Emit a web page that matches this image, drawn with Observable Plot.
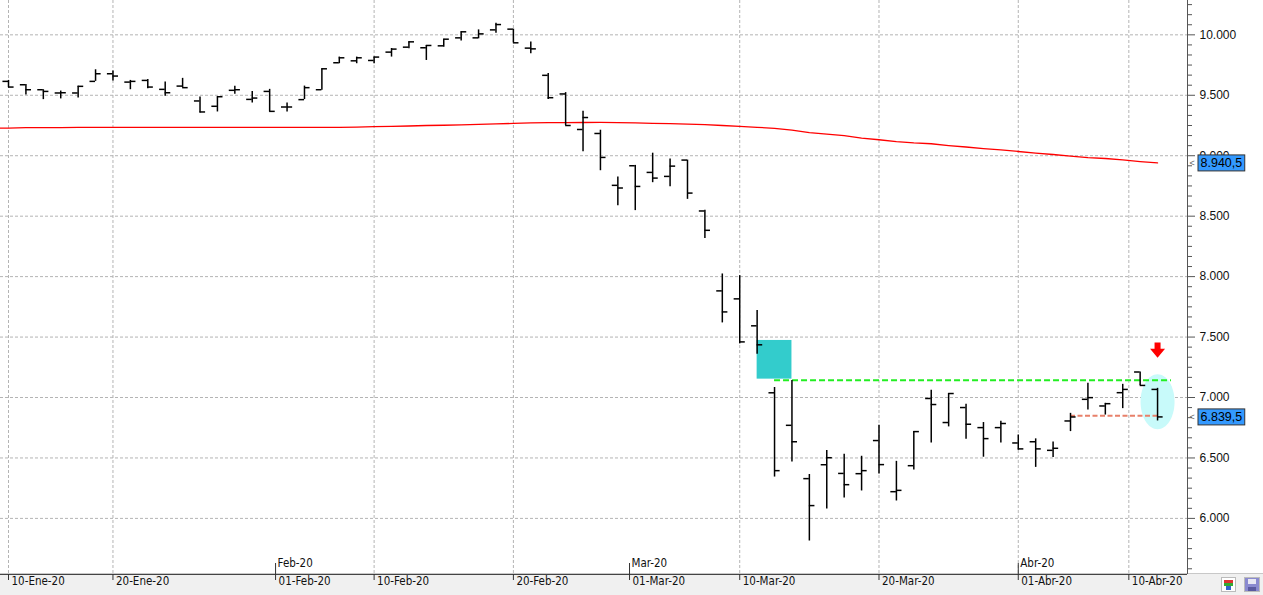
<!DOCTYPE html>
<html><head><meta charset="utf-8">
<script src="https://cdn.jsdelivr.net/npm/d3@7"></script>
<script src="https://cdn.jsdelivr.net/npm/@observablehq/plot@0.6"></script>
<style>
html,body{margin:0;padding:0;background:#fff;}
#chart{position:relative;width:1263px;height:595px;overflow:hidden;}
#chart svg{display:block;}
.icon{position:absolute;box-sizing:border-box;}
</style></head><body><div id="chart"></div>
<script>
// ---- data (IBEX 35 daily bars) ----
const dates = ["2020-01-10","2020-01-13","2020-01-14","2020-01-15","2020-01-16","2020-01-17","2020-01-20","2020-01-21","2020-01-22","2020-01-23","2020-01-24","2020-01-27","2020-01-28","2020-01-29","2020-01-30","2020-01-31","2020-02-03","2020-02-04","2020-02-05","2020-02-06","2020-02-07","2020-02-10","2020-02-11","2020-02-12","2020-02-13","2020-02-14","2020-02-17","2020-02-18","2020-02-19","2020-02-20","2020-02-21","2020-02-24","2020-02-25","2020-02-26","2020-02-27","2020-02-28","2020-03-02","2020-03-03","2020-03-04","2020-03-05","2020-03-06","2020-03-09","2020-03-10","2020-03-11","2020-03-12","2020-03-13","2020-03-16","2020-03-17","2020-03-18","2020-03-19","2020-03-20","2020-03-23","2020-03-24","2020-03-25","2020-03-26","2020-03-27","2020-03-30","2020-03-31","2020-04-01","2020-04-02","2020-04-03","2020-04-06","2020-04-07","2020-04-08","2020-04-09","2020-04-14","2020-04-15"];
const open = [9615,9587,9546,9519,9519,9615,9678,9609,9623,9549,
  9576,9453,9409,9541,9466,9532,9403,9464,9546,9769,
  9785,9788,9857,9898,9893,9909,9975,9975,10041,10047,
  9890,9665,9511,9217,9184,8755,8917,8862,8829,8964,
  8543,7882,7816,7593,7039,6770,6329,6444,6372,6370,
  6644,6221,6436,6992,6793,6917,6751,6751,6624,6634,
  6563,6806,6985,6930,7040,7211,7067];
const high = [9623,9590,9546,9535,9574,9711,9700,9623,9631,9609,
  9640,9486,9488,9574,9532,9549,9436,9576,9719,9816,
  9816,9816,9887,9942,9912,9964,10025,10041,10096,10047,
  9940,9680,9522,9368,9211,8823,8920,9021,8972,8964,
  8548,8022,8008,7719,7083,7141,6363,6562,6530,6514,
  6771,6472,6718,7061,7033,6945,6793,6804,6690,6658,
  6632,6869,7117,6952,7109,7211,7076];
const low = [9563,9502,9464,9470,9477,9615,9618,9546,9554,9491,
  9563,9354,9362,9508,9436,9362,9362,9464,9541,9761,
  9761,9761,9816,9884,9788,9898,9948,9967,10014,9934,
  9843,9465,9250,9032,8876,8587,8546,8777,8744,8639,
  8315,7617,7444,7358,6342,6466,5813,6078,6169,6227,
  6367,6144,6401,6624,6757,6655,6506,6624,6565,6422,
  6503,6718,6897,6855,6908,7100,6806];
const close = [9568,9546,9532,9521,9574,9678,9659,9615,9568,9521,
  9563,9362,9488,9546,9477,9367,9403,9563,9719,9810,
  9810,9816,9882,9942,9912,9964,10025,10008,10085,9934,
  9884,9480,9250,9316,8986,8733,8746,8815,8914,8691,
  8383,7708,7460,7436,6395,6634,6106,6502,6279,6395,
  6445,6232,6718,6942,7033,6779,6660,6785,6575,6575,
  6580,6839,6999,6949,7067,7100,6839.5];
// 200-session moving average (value of the session before the first bar, then one per bar)
const ma200Before = 9228;
const ma200 = [9229,9232,9233,9233,9234,9234,9234,9235,9235,9235,
  9235,9235,9235,9235,9235,9235,9235,9235,9235,9235,
  9236,9240,9243,9246,9250,9252,9255,9259,9264,9267,
  9271,9273,9274,9275,9276,9274,9271,9268,9265,9262,
  9258,9250,9243,9235,9227,9211,9191,9179,9167,9146,
  9132,9117,9106,9099,9084,9072,9059,9049,9035,9022,
  9010,8997,8985,8977,8965,8952,8940.5];

// axis ticks (x in session index units)
const yTicks = [6000,6500,7000,7500,8000,8500,9000,9500,10000];
const dayTickPos = [0,6,15.34,21,29,35.67,42,50,58,64.35];
const dayTickLabels = ["10-Ene-20","20-Ene-20","01-Feb-20","10-Feb-20","20-Feb-20","01-Mar-20","10-Mar-20","20-Mar-20","01-Abr-20","10-Abr-20"];
const gridPos = [0,6,21,29,42,50,58,64.35];
const monthTickPos = [15.34,35.67,58];
const monthTickLabels = ["Feb-20","Mar-20","Abr-20"];

// annotations
const zoneBox = [{from:43, to:45, top:7472, bottom:7152}];
const resistance = [{from:44, to:66.8, level:7143}];
const support = [{from:61, to:66, level:6850}];
const highlight = [{at:66, level:6965}];
const signal = [{at:66, level:7392}];
const lastValues = [{value:8940.5, label:"8.940,5"},{value:6839.5, label:"6.839,5"}];

// ---- build ----
const bars = dates.map((d,i)=>({i, date:d, open:open[i], high:high[i], low:low[i], close:close[i]}));
const maData = [{i:-1, v:ma200Before}, ...ma200.map((v,i)=>({i, v}))];
const xDomain = [-0.46, 67.72];
const yDomain = [5536, 10284];
const minorTicks = d3.range(5500, 10300, 500/6).filter(v => v >= yDomain[0] && v <= yDomain[1] && !yTicks.some(t => Math.abs(t - v) < 1));
const esLocale = d3.formatLocale({decimal:",", thousands:".", grouping:[3], currency:["","€"]});
const fmt = esLocale.format(",");

const ellipse = {draw(ctx){ const rx=17, ry=27.5, k=0.5523;
  ctx.moveTo(rx,0); ctx.bezierCurveTo(rx,ry*k,rx*k,ry,0,ry); ctx.bezierCurveTo(-rx*k,ry,-rx,ry*k,-rx,0);
  ctx.bezierCurveTo(-rx,-ry*k,-rx*k,-ry,0,-ry); ctx.bezierCurveTo(rx*k,-ry,rx,-ry*k,rx,0); ctx.closePath(); }};
const downArrow = {draw(ctx){
  ctx.moveTo(-3,-7.6); ctx.lineTo(3,-7.6); ctx.lineTo(3,-1.3); ctx.lineTo(7.5,-1.3); ctx.lineTo(0,7.7);
  ctx.lineTo(-7.5,-1.3); ctx.lineTo(-3,-1.3); ctx.closePath(); }};

const dateFont = "'DejaVu Sans Condensed', 'Liberation Sans Narrow', sans-serif";
const gridStyle = {stroke:"#b4b4b4", strokeDasharray:"3,2", strokeWidth:1};
const barStroke = {stroke:"#000", strokeWidth:1.5};

const svg = Plot.plot({
  width: 1263, height: 595,
  marginLeft: 0, marginRight: 76, marginTop: 0, marginBottom: 21,
  x: {type:"linear", domain: xDomain, axis: null},
  y: {type:"linear", domain: yDomain},
  style: {fontFamily:"'Liberation Sans', Arial, sans-serif", fontSize:"12px", color:"#1a1a1a",
          background:"linear-gradient(to bottom, #fff 0, #fff 573px, #c8c8c8 573px, #c8c8c8 574px, #f0f0f0 574px, #f0f0f0 100%)"},
  marks: [
    Plot.ruleY(yTicks, {y: d=>d, ...gridStyle}),
    Plot.ruleX(gridPos, {x: d=>d, ...gridStyle}),
    Plot.rect(zoneBox, {x1:"from", x2:"to", y1:"bottom", y2:"top", fill:"#33cccc"}),
    Plot.dot(highlight, {x:"at", y:"level", symbol: ellipse, fill:"#c8fafa", stroke:"none"}),
    Plot.line(maData, {x:"i", y:"v", stroke:"#ff0000", strokeWidth:1.3, clip:true}),
    Plot.ruleY(resistance, {x1:"from", x2:"to", y:"level", stroke:"#22ee22", strokeWidth:2, strokeDasharray:"6,3"}),
    Plot.ruleY(support, {x1:"from", x2:"to", y:"level", stroke:"#e8806a", strokeWidth:2, strokeDasharray:"5,2.5"}),
    Plot.ruleX(bars, {x:"i", y1:"low", y2:"high", ...barStroke}),
    Plot.ruleY(bars, {x1: d=>d.i-0.32, x2:"i", y:"open", ...barStroke}),
    Plot.ruleY(bars, {x1:"i", x2: d=>d.i+0.32, y:"close", ...barStroke}),
    Plot.dot(signal, {x:"at", y:"level", symbol: downArrow, fill:"#ff0000", stroke:"none"}),
    // axes frame
    Plot.ruleY([yDomain[0]], {y: d=>d, stroke:"#444"}),
    Plot.ruleX([xDomain[1]], {x: d=>d, stroke:"#555"}),
    Plot.axisY({anchor:"right", ticks: yTicks, tickSize:7, tickPadding:5, tickFormat: fmt, stroke:"#555", fill:"#111"}),
    Plot.axisY({anchor:"right", ticks: minorTicks, tickSize:4, tickFormat: () => "", stroke:"#555"}),
    Plot.tickX(dayTickPos, {x: d=>d, insetTop:574, insetBottom:-6, stroke:"#333"}),
    Plot.tickX(monthTickPos, {x: d=>d, insetTop:563, stroke:"#333"}),
    Plot.text(dayTickPos, {x: d=>d, text: (d,i)=>dayTickLabels[i], frameAnchor:"bottom", dy:10, dx:3, textAnchor:"start", fontFamily: dateFont, fontSize:11.5, fill:"#111"}),
    Plot.text(monthTickPos, {x: d=>d, text: (d,i)=>monthTickLabels[i], frameAnchor:"bottom", dy:-8, dx:2, textAnchor:"start", fontFamily: dateFont, fontSize:11.5, fill:"#111"}),
    // last-value tags
    Plot.text(lastValues, {x: () => xDomain[1], y:"value", text: () => "<", dx:2, textAnchor:"start", fontSize:9, fill:"#666"}),
    Plot.text(lastValues, {x: () => xDomain[1], y:"value", text:"label", dx:13, textAnchor:"start", fontSize:12.5, fill:"#000", className:"valbox"})
  ]
});
document.getElementById("chart").appendChild(svg);

// boxes behind the last-value tags
d3.select(svg).selectAll("g.valbox text").each(function(){
  const b = this.getBBox();
  d3.select(this.parentNode).insert("rect", () => this)
    .attr("transform", this.getAttribute("transform"))
    .attr("x", b.x - 2.5).attr("y", b.y - 1).attr("width", b.width + 5).attr("height", b.height + 2)
    .attr("fill", "#3399ff").attr("stroke", "#333").attr("stroke-width", 1);
});

// toolbar icons at bottom right
const chart = document.getElementById("chart");
const ic1 = document.createElement("div"); ic1.className = "icon";
Object.assign(ic1.style, {left:"1221px", top:"577px", width:"15px", height:"15px", border:"1px solid #bbb", background:"#fff"});
ic1.innerHTML = '<div style="position:absolute;left:2px;top:2px;width:9px;height:3px;background:#d33"></div><div style="position:absolute;left:2px;top:5px;width:9px;height:3px;background:#3a3"></div><div style="position:absolute;left:4px;top:8px;width:5px;height:4px;background:#36c"></div>';
const ic2 = document.createElement("div"); ic2.className = "icon";
Object.assign(ic2.style, {left:"1244px", top:"577px", width:"16px", height:"15px", border:"1px solid #bbb", background:"#8a8ad0"});
ic2.innerHTML = '<div style="position:absolute;left:3px;top:1px;width:8px;height:5px;background:#e8e8f4"></div><div style="position:absolute;left:3px;top:9px;width:8px;height:4px;background:#5a5aa0"></div>';
chart.appendChild(ic1); chart.appendChild(ic2);
</script>
</body></html>
